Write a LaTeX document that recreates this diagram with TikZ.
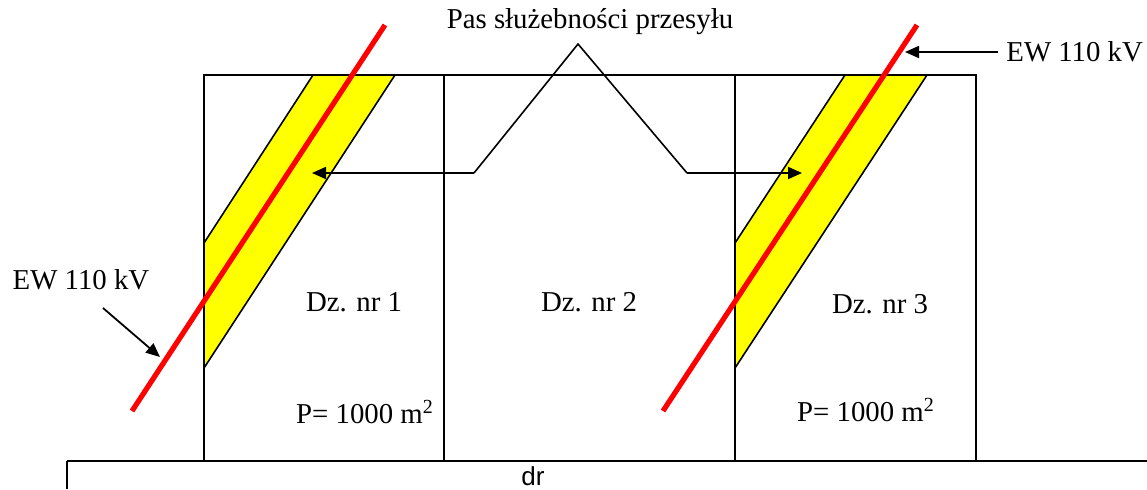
\documentclass[tikz,border=0pt]{standalone}
\usepackage{fontspec}
\setmainfont{Liberation Serif}
\newfontfamily\arialfont{Liberation Sans}
\usetikzlibrary{positioning,arrows.meta}
\definecolor{stripyellow}{HTML}{FFFF00}
\definecolor{linered}{HTML}{FF0000}

\begin{document}
\begin{tikzpicture}[
  x=0.5pt,y=-0.5pt,
  font=\fontsize{14.4}{17}\selectfont,
  parcel/.style={draw,line width=1.2pt},
  strip/.style={draw,fill=stripyellow,line width=0.8pt},
  ewline/.style={linered,line width=2.6pt},
  lead/.style={line width=0.8pt},
  arr/.style={-{Triangle[length=7pt,width=6pt]},line width=0.9pt},
  lbl/.style={inner sep=0pt},
]
\useasboundingbox (0,0) rectangle (1147,489);

% Yellow strips (servitude corridor)
\fill[stripyellow] (313,75) -- (395,75) -- (204,368) -- (204,243) -- cycle;
\draw[lead] (204,243) -- (313,75) (395,75) -- (204,368);
\fill[stripyellow] (845,75) -- (927,75) -- (735,368) -- (735,243) -- cycle;
\draw[lead] (735,243) -- (845,75) (927,75) -- (735,368);

% Parcels
\draw[parcel] (204,461) -- (204,75) -- (976,75) -- (976,461);
\draw[parcel] (444,75) -- (444,461);
\draw[parcel] (735,75) -- (735,461);

% Road
\draw[line width=1.3pt] (67,461) -- (1147,461);
\draw[parcel] (67,489) -- (67,461);
\node[lbl,font=\arialfont\fontsize{13}{15}\selectfont] (road) at (533,476) {dr};

% Power lines
\draw[ewline] (385,25) -- (132,411);
\draw[ewline] (917,25) -- (663,411);

% Parcel labels
\node[lbl] (dz1) at (354,302) {Dz. nr 1};
\node[lbl] (dz2) at (589,302) {Dz. nr 2};
\node[lbl] (dz3) at (880,304) {Dz. nr 3};
\node[lbl] (p1) at (365,412) {P= 1000 m\textsuperscript{2}};
\node[lbl] (p3) at (866,410) {P= 1000 m\textsuperscript{2}};

% Servitude label with leaders
\node[lbl] (pas) at (590,22) {Pas służebności przesyłu};
\coordinate (apex) at (578,44);
\coordinate (bendl) at (474,173);
\coordinate (bendr) at (687,173);
\coordinate (tipl) at (312,173);
\coordinate (tipr) at (802,173);
\draw[lead] (bendl) -- (apex) -- (bendr);
\draw[arr] (bendl) -- (tipl);
\draw[arr] (bendr) -- (tipr);

% Power line labels
\node[lbl,anchor=west] (ewr) at (1006,52) {EW 110 kV};
\coordinate (ewrtip) at (905,52);
\draw[arr] (ewr.west) ++(-8,0) -- (ewrtip);
\node[lbl] (ewl) at (81,280) {EW 110 kV};
\coordinate (ewlstart) at (103,308);
\coordinate (ewltip) at (160,357);
\draw[arr] (ewlstart) -- (ewltip);
\end{tikzpicture}
\end{document}
